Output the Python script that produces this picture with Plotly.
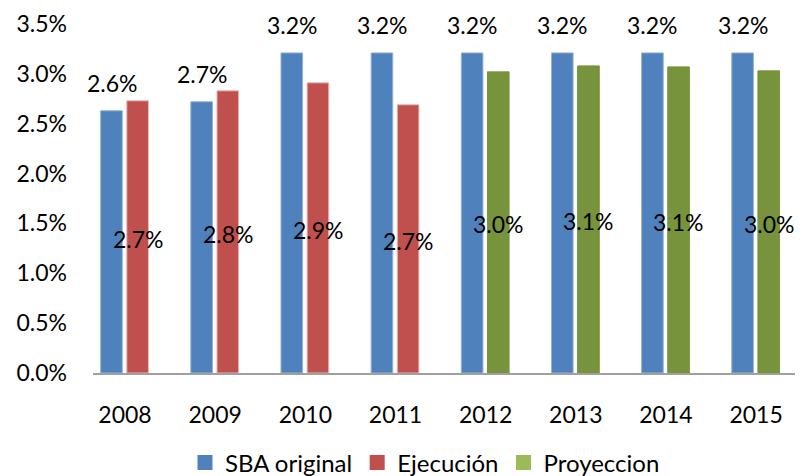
import plotly.graph_objects as go

years = ["2008", "2009", "2010", "2011", "2012", "2013", "2014", "2015"]
sba_original = [2.63, 2.72, 3.21, 3.21, 3.21, 3.21, 3.21, 3.21]
sba_labels = ["2.6%", "2.7%", "3.2%", "3.2%", "3.2%", "3.2%", "3.2%", "3.2%"]
ejec_years = ["2008", "2009", "2010", "2011"]
ejecucion = [2.73, 2.83, 2.91, 2.69]
ejec_labels = ["2.7%", "2.8%", "2.9%", "2.7%"]
proy_years = ["2012", "2013", "2014", "2015"]
proyeccion = [3.02, 3.08, 3.07, 3.03]
proy_labels = ["3.0%", "3.1%", "3.1%", "3.0%"]

BLUE = "#4F81BD"
RED = "#C0504D"
GREEN = "#77933C"
GREEN_LEG = "#9BBB59"
FONT = "Lato"
FS = 23

fig = go.Figure()

# bars, placed by hand inside each category slot
fig.add_trace(go.Bar(x=years, y=sba_original, width=0.24, offset=-0.27,
                     marker=dict(color=BLUE, line=dict(color="#95B3D7", width=1)),
                     showlegend=False))
fig.add_trace(go.Bar(x=ejec_years, y=ejecucion, width=0.24, offset=0.02,
                     marker=dict(color=RED, line=dict(color="#E6B9B8", width=1)),
                     showlegend=False))
fig.add_trace(go.Bar(x=proy_years, y=proyeccion, width=0.24, offset=0.02,
                     marker=dict(color=GREEN, line=dict(color=GREEN, width=1)),
                     showlegend=False))

# legend-only entries
for name, col in [("SBA original", BLUE), ("Ejecución", RED), ("Proyeccion", GREEN_LEG)]:
    fig.add_trace(go.Scatter(x=[None], y=[None], mode="markers", name=name,
                             marker=dict(symbol="square", size=15, color=col)))

# data labels
for yr, v, t in zip(years, sba_original, sba_labels):
    fig.add_annotation(x=years.index(yr), y=v, xref="x", yref="y", text=t,
                       showarrow=False, xshift=-13, yshift=28,
                       font=dict(size=FS, color="black", family=FONT))
for yr, v, t in zip(ejec_years + proy_years, ejecucion + proyeccion, ejec_labels + proy_labels):
    fig.add_annotation(x=years.index(yr), y=v / 2, xref="x", yref="y", text=t,
                       showarrow=False, xshift=13, yshift=-2,
                       font=dict(size=FS, color="black", family=FONT))

# page body has an 8px margin, so the figure is drawn 8px smaller and shifted
fig.update_layout(
    width=795, height=468,
    margin=dict(l=85, r=0, t=16, b=103, autoexpand=False),
    paper_bgcolor="white", plot_bgcolor="white",
    barmode="overlay",
    font=dict(family=FONT, size=FS, color="black"),
    legend=dict(orientation="h", xref="container", yref="container",
                x=0.5245, y=0.028, xanchor="center", yanchor="middle",
                font=dict(size=24), itemwidth=30),
)
fig.update_xaxes(type="category", range=[-0.355, 7.52], showline=True, linecolor="#A0A0A0",
                 linewidth=2, showgrid=False, ticks="", ticklabelstandoff=20, automargin=False)
fig.update_yaxes(range=[0, 3.5], dtick=0.5, tickformat=".1f", ticksuffix="%",
                 showgrid=False, zeroline=False, showline=False, ticklabelstandoff=25,
                 automargin=False)

fig.write_html("out.html")
